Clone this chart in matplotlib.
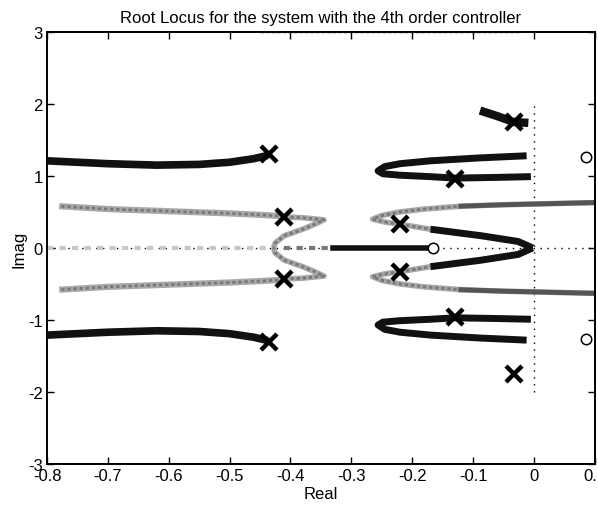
import matplotlib
matplotlib.use("Agg")
import matplotlib.pyplot as plt
import numpy as np

# ---- data (upper half-plane; lower half mirrors) ----
pole_re = [-0.435, -0.41, -0.22, -0.13, -0.032]
pole_im = [1.30, 0.43, 0.33, 0.96, 1.75]
zero_re = [-0.166, 0.086, 0.086]
zero_im = [0.0, 1.26, -1.26]

# far-left black branch
brA_x = [-0.435, -0.44, -0.46, -0.50, -0.55, -0.62, -0.70, -0.80]
brA_y = [1.32, 1.28, 1.24, 1.19, 1.16, 1.15, 1.17, 1.21]
# left grey branch
brB_x = [-0.41, -0.45, -0.50, -0.60, -0.70, -0.78]
brB_y = [0.44, 0.46, 0.48, 0.51, 0.54, 0.58]
# grey stub from pole to the right, then "<" arm to real axis
brC_x = [-0.41, -0.38, -0.345, -0.36, -0.38, -0.41, -0.425, -0.428]
brC_y = [0.43, 0.42, 0.39, 0.33, 0.26, 0.17, 0.07, 0.0]
# real-axis segments
ax_grey_x = [-0.80, -0.43]
ax_grey2_x = [-0.41, -0.32]
ax_black_x = [-0.33, -0.166]
# right "C" black loop
brD_x = [-0.012, -0.09, -0.17, -0.22, -0.245, -0.256, -0.248, -0.22, -0.17, -0.13, -0.06, -0.005]
brD_y = [1.28, 1.25, 1.21, 1.17, 1.13, 1.07, 1.03, 1.01, 0.99, 0.97, 0.98, 0.99]
# ">" branch from pole to origin
brE_x = [-0.22, -0.17, -0.087, -0.026, -0.002]
brE_y = [0.33, 0.26, 0.17, 0.09, 0.0]
# grey branch going off to the right
brF_x = [-0.22, -0.245, -0.265, -0.25, -0.22, -0.18, -0.12, -0.05, 0.0, 0.1]
brF_y = [0.33, 0.36, 0.40, 0.45, 0.50, 0.54, 0.58, 0.60, 0.61, 0.63]
# short branch at the top pole
brG_x = [-0.082, -0.06, -0.034, -0.016]
brG_y = [1.89, 1.83, 1.75, 1.74]

xticks = [-0.8, -0.7, -0.6, -0.5, -0.4, -0.3, -0.2, -0.1, 0, 0.1]
xticklabels = ["-0.8", "-0.7", "-0.6", "-0.5", "-0.4", "-0.3", "-0.2", "-0.1", "0", "0.1"]
yticks = [-3, -2, -1, 0, 1, 2, 3]
yticklabels = ["-3", "-2", "-1", "0", "1", "2", "3"]

plt.rcParams['font.family'] = ['Liberation Sans', 'DejaVu Sans']
plt.rcParams['axes.unicode_minus'] = False

fig = plt.figure(figsize=(5.98, 5.06), dpi=100)
ax = fig.add_axes([0.0786, 0.081, 0.916, 0.854])

BLACK = '#111111'
GREY = '#a8a8a8'
GREYD = '#787878'

def black(x, y, lw=5.5):
    x = np.asarray(x); y = np.asarray(y)
    for s in (1, -1):
        ax.plot(x, s * y, color=BLACK, lw=lw, solid_capstyle='butt', zorder=3)

def grey(x, y, lw=5):
    x = np.asarray(x); y = np.asarray(y)
    for s in (1, -1):
        ax.plot(x, s * y, color=GREY, lw=lw, solid_capstyle='butt', zorder=2)
        ax.plot(x, s * y, color=GREYD, lw=2.0, ls=(0, (1.2, 1.0)), zorder=2)

# dotted axis lines
ax.plot([-0.8, 0.1], [0, 0], color='black', lw=1, ls=(0, (1, 4)), zorder=1)
ax.plot([0, 0], [-2, 2], color='black', lw=1, ls=(0, (1, 4)), zorder=1)

black(brA_x, brA_y, lw=5.5)
grey(brB_x, brB_y, lw=4.5)
grey(brC_x, brC_y, lw=4)
ax.plot(ax_grey_x, [0, 0], color='#c8c8c8', lw=3, ls=(0, (1.5, 1.5)), zorder=2)
ax.plot(ax_grey2_x, [0, 0], color=GREYD, lw=3, ls=(0, (1.5, 1.5)), zorder=2)
ax.plot(ax_black_x, [0, 0], color=BLACK, lw=4, zorder=3)
black(brD_x, brD_y, lw=5)
grey(brE_x[:2], brE_y[:2], lw=4)
black(brE_x[1:], brE_y[1:], lw=5)
grey(brF_x, brF_y, lw=4)
for s in (1, -1):
    ax.plot(brF_x[6:], s * np.asarray(brF_y[6:]), color='#555555', lw=3.5, zorder=2)
ax.plot(brG_x, brG_y, color=BLACK, lw=6, zorder=3)

# faint branches at the top/bottom edges
ax.plot([-0.45, -0.02], [2.98, 2.98], color='#d4d4d4', lw=0.8, ls=(0, (3, 2)), zorder=1)
ax.plot([-0.45, -0.30], [-2.98, -2.98], color='#d8d8d8', lw=0.8, ls=(0, (2, 3)), zorder=1)

# poles and zeros
for s in (1, -1):
    ax.plot(pole_re, s * np.asarray(pole_im), ls='none', marker='x', ms=11, mew=3.2,
            color='black', zorder=5)
ax.plot(zero_re, zero_im, ls='none', marker='o', ms=7.5, mew=1.1,
        mec='black', mfc='white', zorder=5)

ax.set_xlim(-0.8, 0.1)
ax.set_ylim(-3, 3)
ax.set_xticks(xticks)
ax.set_xticklabels(xticklabels)
ax.set_yticks(yticks)
ax.set_yticklabels(yticklabels)
ax.tick_params(direction='in', top=True, right=True, length=5, width=1,
               labelsize=12, pad=3)
for sp in ax.spines.values():
    sp.set_linewidth(1.4)
ax.set_xlabel('Real', fontsize=12, labelpad=2)
ax.set_ylabel('Imag', fontsize=12, labelpad=1)
ax.set_title('Root Locus for the system with the 4th order controller', fontsize=12, pad=7)

fig.savefig('out.png', dpi=100)
